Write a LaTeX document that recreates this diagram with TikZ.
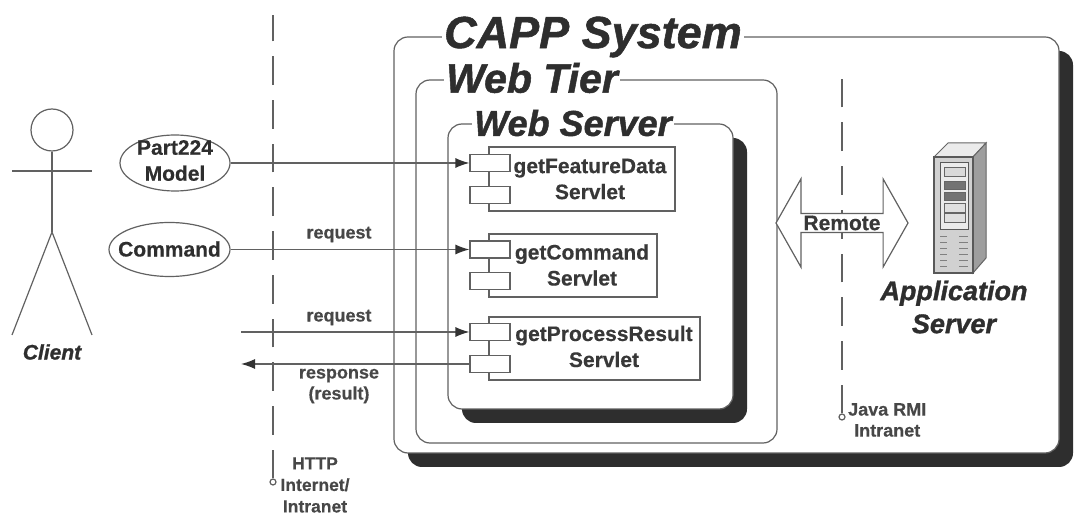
\documentclass[tikz,border=0pt]{standalone}
\usepackage{fontspec}
\setmainfont{Liberation Sans}[BoldFeatures={FakeBold=0.4},BoldItalicFeatures={FakeBold=1.2}]
\usetikzlibrary{shapes.geometric,shapes.arrows,arrows.meta}

\begin{document}
\begin{tikzpicture}[x=1pt,y=-1pt,
    line/.style={draw=black!62,line width=1.2pt},
    tierbox/.style={line,fill=white,rounded corners=14pt},
    shadowbox/.style={fill=black!82,rounded corners=14pt},
    title/.style={fill=white,text=black!82,inner xsep=2pt,inner ysep=0pt},
    tabbox/.style={line,fill=white,minimum width=40pt,minimum height=17pt,inner sep=0pt},
    comptext/.style={align=center,text=black!78,font=\fontsize{21}{26}\selectfont\bfseries},
    small/.style={align=center,text=black!72,font=\fontsize{18}{21}\selectfont\bfseries},
    usecase/.style={line,ellipse,fill=white,inner sep=0pt},
    flow/.style={line,-{Latex[length=14pt,width=10pt,black!80]}},
    boundary/.style={line,dash pattern=on 28.7pt off 15pt},
    slot/.style={draw=black!60,line width=0.8pt,fill=black!12}]
  \useasboundingbox (0,0) rectangle (1077,518);

  \fill[shadowbox] (408,51) rectangle (1073,467);
  \draw[tierbox] (394,37) rectangle (1059,453);
  \node[title,font=\fontsize{45}{45}\selectfont\bfseries\itshape] (capp) at (593,37) {CAPP System};

  \draw[tierbox] (416,80) rectangle (777,443);
  \node[title,font=\fontsize{41}{41}\selectfont\bfseries\itshape] (webtier) at (532,78) {Web Tier};

  \fill[shadowbox] (462,138) rectangle (747,423);
  \draw[tierbox] (448,124) rectangle (733,409);
  \node[title,font=\fontsize{36}{36}\selectfont\bfseries\itshape] (webserver) at (573,123) {Web Server};

  \draw[line] (489,147) rectangle (675,211);
  \node[tabbox] (feat1) at (490,163) {};
  \node[tabbox] (feat2) at (490,195) {};
  \node[comptext] (feat) at (590,179) {getFeatureData\\Servlet};

  \draw[line] (489,234) rectangle (657,297);
  \node[tabbox] (comm1) at (490,249.5) {};
  \node[tabbox] (comm2) at (490,281) {};
  \node[comptext] (comm) at (582,265) {getCommand\\Servlet};

  \draw[line] (489,317) rectangle (700,380);
  \node[tabbox] (proc1) at (490,332) {};
  \node[tabbox] (proc2) at (490,364) {};
  \node[comptext] (proc) at (604,346.5) {getProcessResult\\Servlet};

  \node[line,circle,fill=white,minimum size=42pt,inner sep=0pt] (head) at (52,130) {};
  \coordinate (hip) at (52,232);
  \coordinate (larm) at (12,171);
  \coordinate (rarm) at (92,171);
  \coordinate (lfoot) at (12,335);
  \coordinate (rfoot) at (92,335);
  \draw[line] (head) -- (hip);
  \draw[line] (larm) -- (rarm);
  \draw[line] (lfoot) -- (hip) -- (rfoot);
  \node[text=black!82,font=\fontsize{21}{21}\selectfont\bfseries\itshape] (client) at (52,352) {Client};

  \node[usecase,minimum width=110pt,minimum height=56pt] (part) at (175,163) {};
  \node[comptext,text=black!82] (partname) at (175,160.5) {Part224\\Model};
  \node[usecase,minimum width=121pt,minimum height=54pt] (command) at (169.5,249.5) {};
  \node[comptext,text=black!82] (commandname) at (169.5,249) {Command};

  \node[line,circle,fill=white,minimum size=6pt,inner sep=0pt] (httpend) at (273,482) {};
  \coordinate (httptop) at (273,15);
  \draw[boundary] (httpend) -- (httptop);
  \node[small,font=\fontsize{17.5}{21.5}\selectfont\bfseries] (http) at (315,485) {HTTP\\Internet/\\Intranet};

  \node[line,circle,fill=white,minimum size=6pt,inner sep=0pt] (rmiend) at (842,417) {};
  \coordinate (rmitop) at (842,77);
  \draw[boundary] (rmiend) -- (rmitop);
  \node[small,anchor=north west,inner sep=0pt,align=center] (rmi) at (848,403) {Java RMI\\Intranet};

  \coordinate (reqin) at (241,332);
  \coordinate (respout) at (241,364);
  \draw[flow] (part) -- (feat1);
  \draw[flow] (command) -- (comm1);
  \draw[flow] (reqin) -- (proc1);
  \draw[flow] (proc2) -- (respout);
  \node[small] (req1) at (339,234.5) {request};
  \node[small] (req2) at (339,317.5) {request};
  \node[small] (resp) at (339,386) {response\\(result)};

  \node[line,double arrow,fill=white,double arrow head extend=29pt,double arrow tip angle=121,
    minimum height=132pt,minimum width=88pt,inner sep=0pt,text=black!78,
    font=\fontsize{21}{21}\selectfont\bfseries] (remote) at (842,223) {Remote};

  \begin{scope}
    \fill[black!8,draw=black!60,line width=1pt] (934,157) -- (948,143) -- (986,143) -- (973,157) -- cycle;
    \fill[black!38,draw=black!60,line width=1pt] (973,157) -- (986,143) -- (986,258) -- (973,273) -- cycle;
    \fill[black!18,draw=black!65,line width=1.5pt] (934,157) rectangle (973,273);
    \fill[black!8,draw=black!65,line width=1pt] (940,163) rectangle (968,230);
    \fill[slot,fill=black!15] (944,167) rectangle (965,176);
    \fill[slot,fill=black!55] (944,181) rectangle (965,189);
    \fill[slot,fill=black!55] (944,192) rectangle (965,200);
    \fill[slot] (944,203) rectangle (965,212);
    \fill[slot] (944,213) rectangle (965,222);
    \foreach \y in {236,242,...,266} {
      \draw[black!50,line width=0.8pt] (940,\y) -- (947,\y);
      \draw[black!50,line width=0.8pt] (959,\y) -- (968,\y);
    }
  \end{scope}
  \node[text=black!82,align=center,font=\fontsize{27}{33}\selectfont\bfseries\itshape] (appserver) at (954,307) {Application\\Server};
\end{tikzpicture}
\end{document}
